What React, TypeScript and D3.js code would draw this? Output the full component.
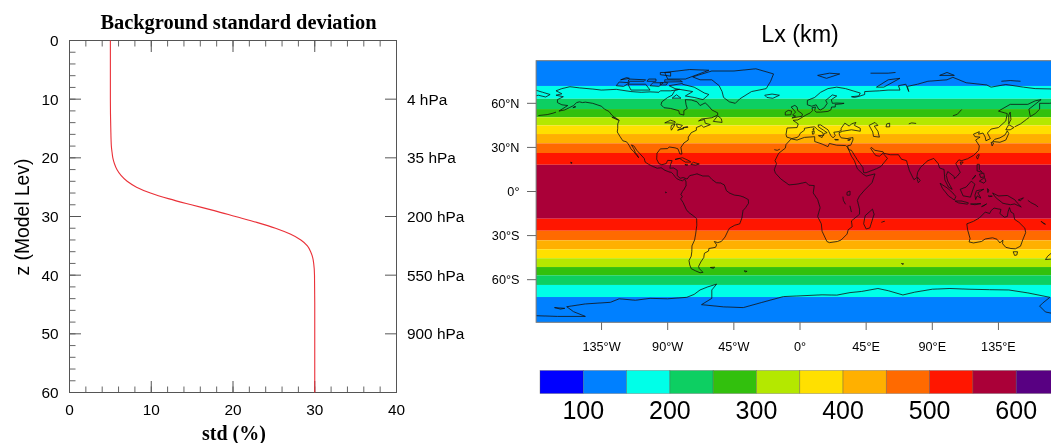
import React from 'react'
import * as d3 from 'd3'

type Pt = [number, number]

// left panel: profile
const modelLevels = [0, 10, 15, 18, 19, 20, 21, 22, 23, 24, 25, 26, 27, 28, 29, 30, 31, 32, 33, 34, 35, 36, 37, 38, 40, 45, 60]
const stdValues = [5, 5, 5.05, 5.12, 5.2, 5.3, 5.5, 5.8, 6.3, 7.05, 8.2, 9.9, 12.2, 14.9, 17.7, 20.3, 22.9, 25.2, 27, 28.3, 29.1, 29.5, 29.75, 29.87, 29.97, 30, 30]
const xMajor = [0, 10, 20, 30, 40]
const xMinor = d3.range(0, 41, 2)
const yMajor = [0, 10, 20, 30, 40, 50, 60]
const yMinor = d3.range(0, 61, 2)
const pressureLevels = [10, 20, 30, 40, 50]
const pressureLabels = ['4 hPa', '35 hPa', '200 hPa', '550 hPa', '900 hPa']

// right panel: Lx bands, north to south
const bandEdges = [89, 71.8, 63.1, 56.1, 50.5, 45, 39.1, 32.8, 26.2, 18.2, -18.5, -26.7, -33.2, -39.3, -45.4, -51.4, -57, -63.6, -71.8, -89]
const bandColorIndex = [1, 2, 3, 4, 5, 6, 7, 8, 9, 10, 9, 8, 7, 6, 5, 4, 3, 2, 1]
const palette = ['#0000ff', '#0080ff', '#00ffe8', '#0ccf62', '#33c00c', '#b4e800', '#ffe000', '#ffb000', '#ff6a00', '#ff1400', '#aa0038', '#590082']
const levelEdges = d3.range(50, 651, 50)
const barLabels = [100, 200, 300, 400, 500, 600]
const lonTicks = [-135, -90, -45, 0, 45, 90, 135]
const lonLabels = ['135°W', '90°W', '45°W', '0°', '45°E', '90°E', '135°E']
const latTicks = [60, 30, 0, -30, -60]
const latLabels = ['60°N', '30°N', '0°', '30°S', '60°S']

// coastlines, lon/lat
const americas: Pt[] = [[-164,54.7],[-160,55.5],[-157,57],[-154,58.5],[-152,60.5],[-150,61],[-148,60.5],[-146,60.8],[-141,60],[-138,59],[-135,58],[-133,56],[-130,54.5],[-128,52],[-125,49.5],[-123,48.5],[-124,46],[-124,43],[-124.3,40.5],[-122.5,37.5],[-120.5,34.5],[-118,33.8],[-117,32.5],[-116,31],[-115,29],[-113,27],[-111,24.5],[-109.8,23],[-110.5,24.5],[-112,26.5],[-113,29],[-114.7,31.7],[-113,31],[-111,28],[-109,25.8],[-106,22.5],[-105.3,20],[-103,18.5],[-100,17],[-97,15.8],[-94.5,16.2],[-92,14.5],[-89,13.3],[-87.5,13],[-86,11.5],[-85,10],[-83.5,8.5],[-81.5,7.7],[-80,7.3],[-78.5,8.5],[-77.5,6.5],[-77.5,4],[-78.8,1.5],[-80,0],[-81,-2],[-80,-3.5],[-81.2,-5],[-79.5,-7.5],[-77.5,-12],[-76,-14],[-72,-17],[-70.3,-18.5],[-70.2,-23],[-71,-29],[-71.7,-33],[-73.5,-37],[-73.6,-41],[-74,-44],[-75.5,-47],[-75,-50],[-74,-52.5],[-71,-54],[-68,-55.3],[-66,-55],[-68.5,-52.5],[-69,-51],[-67.5,-48],[-65.5,-45],[-65,-42],[-62.2,-40.5],[-62,-38.8],[-57.5,-38],[-56.7,-36.3],[-58.3,-34],[-56,-34.8],[-53.5,-34],[-51,-31],[-48.6,-26],[-48,-25],[-44.5,-23],[-41,-22],[-39.5,-18],[-38.8,-13],[-37,-11],[-35,-8],[-35.2,-5.5],[-38.5,-3.7],[-41.5,-2.8],[-44.5,-2.5],[-48,-1],[-50,0.5],[-51.5,4.5],[-54,5.8],[-57,6],[-60,8.3],[-62,10.5],[-66,10.5],[-70,12],[-72,11.5],[-75,10.8],[-76.8,8.5],[-79.5,9.5],[-81.5,9],[-83.5,10.8],[-83.5,14.5],[-86,16],[-88.5,15.8],[-88,18.5],[-87,21],[-90,21.2],[-91,19],[-94,18.2],[-96,19],[-97.5,22],[-97.3,26],[-95,29],[-90,29.2],[-89,30.3],[-85,29.7],[-83,29],[-81.7,25.5],[-80.3,25.5],[-81,30],[-79,33],[-76,35],[-76,37],[-74,40],[-70.5,41.7],[-70.5,43.5],[-67,45],[-65.5,43.7],[-61,45.5],[-64.5,46.5],[-65,49],[-69,48],[-67,49.3],[-60,50.2],[-56,52],[-56,53.5],[-60,55.5],[-62,58],[-64.5,60.3],[-68,58.5],[-70,61],[-74,62.3],[-78,62.5],[-77.5,59],[-76.7,56.5],[-79,55],[-79,52],[-82,52.8],[-82.5,55],[-88,56.5],[-92.5,57],[-94.5,59],[-94,61],[-90,64],[-87,65.5],[-85,69],[-82,69.5],[-88,68.5],[-95,68.5],[-96,67.5],[-102,67.8],[-108,67.5],[-115,68],[-125,69.5],[-135,69],[-141,69.7],[-150,70.5],[-156.5,71.3],[-162,70],[-166,68.5],[-162,66.5],[-166,65.5],[-161,64.5],[-165,62.5],[-165,60.5],[-162,59],[-158,58.5],[-164,54.7]]
const greenland: Pt[] = [[-73,78],[-68,76],[-60,76],[-55,72],[-53,68],[-52,64],[-48,61],[-44,60],[-41,63],[-33,68],[-23,70],[-20,75],[-18,80],[-30,83.5],[-45,82],[-60,82],[-73,78]]
const baffin: Pt[] = [[-80,73],[-72,71],[-65,67],[-62,66],[-66,62.5],[-72,64],[-78,65],[-73,68],[-85,70],[-89,72],[-80,73.5],[-80,73]]
const victoriaIsland: Pt[] = [[-117,73],[-105,73],[-102,69],[-115,69],[-117,73]]
const banksIsland: Pt[] = [[-125,72],[-120,71.5],[-116,74],[-123,74.5],[-125,72]]
const ellesmere: Pt[] = [[-90,76.5],[-78,76.5],[-62,82.5],[-75,83],[-92,81],[-90,76.5]]
const axelHeiberg: Pt[] = [[-95,79.5],[-88,78.5],[-88,81],[-95,81],[-95,79.5]]
const devonIsland: Pt[] = [[-92,74.5],[-80,74.7],[-82,75.8],[-92,76],[-92,74.5]]
const melvilleIsland: Pt[] = [[-117,75],[-106,75],[-105,76],[-116,76.5],[-117,75]]
const bathurstIsland: Pt[] = [[-104,75],[-98,75],[-98,76.5],[-103,76.5],[-104,75]]
const princePatrick: Pt[] = [[-122,76],[-116,77],[-118,77.5],[-122,76]]
const princeOfWales: Pt[] = [[-102,72],[-96,71.5],[-93,74],[-100,74],[-102,72]]
const somerset: Pt[] = [[-95,72.5],[-91,72.5],[-90,74],[-95,74],[-95,72.5]]
const southampton: Pt[] = [[-87,63.5],[-81,63.5],[-84,65.8],[-87,63.5]]
const newfoundland: Pt[] = [[-59,47.7],[-53,47],[-53.5,49.5],[-56,51.5],[-59,47.7]]
const vancouverIsland: Pt[] = [[-128,50.5],[-123.5,48.5],[-125,50],[-128,50.5]]
const kodiak: Pt[] = [[-154.5,57],[-152.5,57.5],[-153,58],[-154.5,57]]
const aleutians: Pt[] = [[-178,51.7],[-172,52.3],[-168,53.3],[-166,54]]
const superior: Pt[] = [[-92,46.7],[-88,48.5],[-85,47.5],[-85,46.5],[-90,46.7],[-92,46.7]]
const michigan: Pt[] = [[-87.5,41.7],[-86.3,43.5],[-85,45.7],[-87.5,45],[-87.8,43],[-87.5,41.7]]
const huron: Pt[] = [[-84,46],[-80,45],[-81.7,43.2],[-83.5,43.8],[-84,46]]
const erie: Pt[] = [[-83.3,41.7],[-79,42.8],[-81,42.7],[-83.3,41.7]]
const ontario: Pt[] = [[-79.7,43.4],[-76.3,43.6],[-76.5,44.2],[-79.7,43.4]]
const cuba: Pt[] = [[-85,21.8],[-80,23],[-75,20.7],[-74.3,20],[-78,20],[-82,22.5],[-85,21.8]]
const hispaniola: Pt[] = [[-74.3,18.4],[-72.5,19.9],[-68.5,18.7],[-71,18],[-74.3,18.4]]
const jamaica: Pt[] = [[-78.3,18.3],[-76.3,18.1],[-77,17.8],[-78.3,18.3]]
const hawaii: Pt[] = [[-156,20],[-155,19.5],[-155.7,19],[-156,20]]
const galapagos: Pt[] = [[-91.5,-0.3],[-90.8,-0.7],[-91.3,-1],[-91.5,-0.3]]
const falklands: Pt[] = [[-61,-51.7],[-58,-51.5],[-59,-52.3],[-61,-51.7]]
const southGeorgia: Pt[] = [[-38,-54],[-36,-54.3],[-37,-54.7],[-38,-54]]
const africa: Pt[] = [[-6,35.8],[-2,35],[3,36.8],[10,37.3],[10,34],[15,32.3],[19,30.5],[20,32.7],[25,31.5],[31,31.3],[32.5,30],[35,24],[37,21],[39,15.5],[43,11.7],[45,10.5],[51,12],[49,6],[44,1],[40.5,-3],[39,-6],[40.5,-12],[40.5,-15.5],[35,-20],[35.5,-24],[32.8,-26],[32,-29],[28,-33],[25.5,-34],[20,-34.8],[18.3,-34],[15,-27],[14.5,-22],[12,-17],[13.7,-11],[12,-5.5],[9,-1],[9.7,4],[6,4.3],[4,6.3],[-2,5],[-7.5,4.5],[-13,8.5],[-16.7,12.5],[-17.5,14.7],[-16,19],[-17,21],[-14.5,26],[-10,29.5],[-9.5,32],[-6,35.8]]
const madagascar: Pt[] = [[49.3,-12],[50.4,-15.5],[47.5,-24.8],[45,-25.5],[43.3,-22],[44.3,-16.5],[49.3,-12]]
const lakeVictoria: Pt[] = [[32,-0.5],[34,0.3],[34,-2.5],[32,-2.5],[32,-0.5]]
const lakeTanganyika: Pt[] = [[29.2,-3.5],[29.5,-6],[31,-8.7]]
const lakeMalawi: Pt[] = [[34,-9.7],[34.5,-12],[35,-14]]
const eurasia: Pt[] = [[-9,37],[-9.5,38.8],[-8.8,43.2],[-2,43.5],[-1.2,46],[-4.7,48.4],[-1.5,48.7],[1.5,50.5],[4,52],[7,53.5],[8.5,55],[8.2,57],[10.5,57.5],[10,55],[11,54],[14,54],[19,54.5],[21,55.5],[21.5,57.5],[24,57.5],[24,59.3],[28,59.6],[30,60],[25,60.2],[22,60],[21.3,62.5],[25,65],[22,65.7],[17.5,62],[18.5,60],[16.5,57],[14,55.5],[12.7,56],[11,59],[8,58],[5,59],[5,62],[10,64],[14,67.5],[19,70],[25,71],[31,70],[41,67],[40,65],[35,64.5],[37,64],[40,64.7],[44,66],[44,68],[54,68.5],[60,69],[68,69],[67,72],[72,73],[74,68],[73,71.5],[80,73],[87,75],[100,76],[104,77.7],[113,74],[127,72.5],[130,71],[140,72.8],[152,71],[160,70],[170,69.8],[180,69]]
const eurasiaSouth: Pt[] = [[180,65],[177,64.7],[179,62.5],[170,60],[163,60],[163,56],[160,53],[156.7,51],[155.7,56],[164,62.5],[160,61.7],[155,59.3],[143,59.3],[135,54.7],[141,53],[140,48],[135,43.5],[130,42.5],[127.5,39.8],[129.5,36],[126.5,34.5],[126,37],[124.5,39.8],[121.5,39],[122,40.7],[118,39],[119,37.3],[122.5,37],[119.5,35],[122,31],[121.5,28],[118,24.5],[114,22.3],[110,21],[108,21.5],[106,19],[109,13],[107,10.5],[105,8.7],[105,10],[102,12.5],[100.5,13.5],[99.5,11],[100.5,7],[103.5,1.5],[101,3],[98.5,8],[98,15],[95,16],[94,19],[91,22.5],[87,21],[82,16.5],[80,13],[79.5,9.5],[77.5,8],[74.5,14],[73,19],[72.5,21],[69,22],[67,25],[61.5,25],[57,26],[56.5,27],[51,28],[48.5,30],[48,29.5],[50,26.5],[51.5,24.5],[54,24],[56.5,26],[59.5,22.5],[55,17],[52,15.5],[45,12.8],[43.3,12.8],[42.7,16.5],[39,21.5],[35,28],[33,28.5],[32.5,30],[32.5,31.2],[34.5,31.5],[36,35],[36,36.7],[32,36],[28,36.5],[27,38],[26.5,40],[29,41],[35,42],[41,41],[41,43],[37,45],[38,47],[35,46],[33.5,44.5],[30.5,46.5],[28,43],[28,41.5],[26,40.7],[23,40.3],[24,38],[22.5,36.5],[21,38],[19.5,41],[19,42],[14,45.3],[12.4,45.3],[12.5,44],[16,41.7],[18.5,40],[16.5,39.5],[16,38],[15.5,40],[12,42],[10,44],[7,43.7],[3,43],[3,41.7],[0,39.5],[-0.5,38],[-2,36.8],[-5.5,36],[-9,37]]
const chukotka: Pt[] = [[-180,69],[-175,67.5],[-170,66],[-173,64.3],[-178,65.5],[-180,65]]
const caspian: Pt[] = [[47,45],[51,47],[53,45],[50.5,44.5],[53,41],[54,37],[50,37.5],[49.5,40.5],[47,45]]
const aral: Pt[] = [[59,46],[61,46.5],[61,44],[58.5,44],[59,46]]
const balkhash: Pt[] = [[74,46],[76,46.7],[79,46.3]]
const baikal: Pt[] = [[104,51.5],[107,52.5],[110,55.8]]
const novayaZemlya: Pt[] = [[52,71],[57,71],[68,77],[60,76],[52,71]]
const svalbard: Pt[] = [[12,79],[20,80.5],[27,80],[18,77],[12,79]]
const franzJosef: Pt[] = [[48,80.5],[60,80.5],[65,81]]
const severnayaZemlya: Pt[] = [[95,79],[105,79],[100,81],[95,79]]
const newSiberia: Pt[] = [[137,75],[143,75.5],[150,75]]
const sakhalin: Pt[] = [[142,46],[143.5,49],[143,54],[142,52],[142,46]]
const kuriles: Pt[] = [[146,44],[150,46],[154,49],[156,50.5]]
const honshu: Pt[] = [[131,34],[136,33.5],[140,35],[142,39.5],[141,41.3],[139.5,38.5],[136,36.5],[132.5,35.5],[131,34]]
const hokkaido: Pt[] = [[140,42],[143,42],[145.5,43.5],[142,45.5],[140,42]]
const kyushu: Pt[] = [[130,33.5],[131.7,33],[130.7,31],[130,33.5]]
const taiwan: Pt[] = [[121,25],[122,25],[120.8,22],[120,23.5],[121,25]]
const hainan: Pt[] = [[109,20],[111,20],[109.5,18.2],[109,20]]
const sriLanka: Pt[] = [[80,9.7],[81.8,7.5],[80.5,6],[79.8,8],[80,9.7]]
const luzon: Pt[] = [[120.5,18.5],[122,18.5],[122,15],[124,13],[120.5,14],[120.5,18.5]]
const palawan: Pt[] = [[117.2,8.4],[119.5,11.2],[119,10],[117.2,8.4]]
const visayas: Pt[] = [[122,11.8],[125,12.5],[125.5,10],[123,9.5],[122,11.8]]
const mindanao: Pt[] = [[122,7],[125.5,9.5],[126.5,7],[125,5.7],[122,7]]
const borneo: Pt[] = [[109,1.5],[113,3],[116.5,7],[119,5],[117.5,1],[116,-3.8],[111,-3],[109,1.5]]
const sumatra: Pt[] = [[95.3,5.6],[100,2.5],[104,-1],[106,-3.5],[105,-5.8],[101,-3],[97,2],[95.3,5.6]]
const java: Pt[] = [[105.5,-6.5],[110,-6.5],[114.5,-7.7],[114,-8.6],[108,-7.8],[105.5,-6.5]]
const flores: Pt[] = [[116,-8.5],[120,-8.3],[123,-8.3],[119,-9],[116,-8.5]]
const sulawesi: Pt[] = [[120,0.5],[125,1.5],[121,-0.8],[123,-4.5],[120.5,-3],[119.5,-5.5],[119,-2.5],[120,0.5]]
const halmahera: Pt[] = [[127.5,2],[128.5,1],[127.8,-0.7],[127.5,2]]
const seram: Pt[] = [[128,-3],[130.8,-3.2],[129,-3.5],[128,-3]]
const newGuinea: Pt[] = [[131,-1],[135,-3],[141,-2.7],[146,-5.5],[148,-8],[150.5,-10.5],[146,-8.5],[143,-9],[138,-8],[133,-4],[131,-1]]
const newBritain: Pt[] = [[148.5,-5.7],[152,-4.3],[150,-6.3],[148.5,-5.7]]
const solomons: Pt[] = [[155,-6],[157,-7.5],[160,-9],[162,-10.5]]
const newCaledonia: Pt[] = [[164,-20.3],[167,-22.3],[165.5,-21.8],[164,-20.3]]
const timor: Pt[] = [[123.5,-10.3],[127,-8.4],[125,-9.7],[123.5,-10.3]]
const australia: Pt[] = [[113.5,-22],[114,-26],[115.7,-32],[115,-34.3],[118,-35],[123.5,-34],[126,-32.3],[131,-31.5],[134,-32.5],[136,-35],[138,-33],[137.8,-35.5],[140,-38],[143.5,-38.8],[146.5,-39],[150,-37.2],[151.5,-33],[153.5,-28],[153,-25],[149,-21],[146,-19],[145.3,-15],[143.5,-14],[142.5,-11],[141.5,-14],[141,-17],[139,-17.5],[136,-15],[136.7,-12.2],[132,-11.3],[130,-13],[129,-15],[126,-14],[122,-18],[118,-20.3],[113.5,-22]]
const tasmania: Pt[] = [[145,-41],[148,-41],[147.5,-43.2],[146,-43.5],[145,-41]]
const nzNorth: Pt[] = [[173,-34.5],[175.5,-36.7],[178.5,-37.7],[176.5,-40.5],[175,-41.5],[174.8,-39.5],[173,-34.5]]
const nzSouth: Pt[] = [[172.7,-40.5],[174.2,-41.7],[172.8,-43.8],[170.5,-46],[167,-46.3],[168.5,-44],[172.7,-40.5]]
const iceland: Pt[] = [[-24,65.5],[-19,66.3],[-14,65.5],[-18.5,63.4],[-22.5,64],[-24,65.5]]
const greatBritain: Pt[] = [[-5.5,50],[1.3,51.2],[1.7,52.7],[-1.5,55],[-2,57.5],[-3.5,58.6],[-6,57.5],[-3,54],[-5,52],[-3,51.3],[-5.5,50]]
const ireland: Pt[] = [[-10,52],[-6.2,52.2],[-5.7,54.7],[-8,55.2],[-10,54],[-10,52]]
const sardinia: Pt[] = [[8.3,41],[9.7,41],[9.5,39.2],[8.5,39],[8.3,41]]
const corsica: Pt[] = [[8.7,42.5],[9.5,43],[9.3,41.5],[8.7,42.5]]
const sicily: Pt[] = [[12.5,38],[15.5,38.2],[15,36.7],[12.5,38]]
const crete: Pt[] = [[23.6,35.5],[26.2,35.2],[24,35],[23.6,35.5]]
const cyprus: Pt[] = [[32.4,35],[34.5,35.6],[33.5,34.7],[32.4,35]]
const canaries: Pt[] = [[-17.5,28.5],[-15.5,28],[-13.7,28.8]]
const kerguelen: Pt[] = [[68.8,-49],[70.5,-49.2],[69.5,-49.7]]
const reunion: Pt[] = [[55.3,-21],[57.5,-20.2],[57,-20.7]]
const antarctica: Pt[] = [[-180,-84.5],[-165,-85],[-146,-85],[-154,-81.8],[-158.7,-78.4],[-146,-76.5],[-129,-75.4],[-123,-73],[-112,-74],[-102,-72.7],[-90,-73],[-77,-72],[-72,-70],[-68,-67],[-63,-65],[-56.7,-63],[-60,-67],[-60,-72.7],[-67,-77],[-52,-78.5],[-38.6,-79],[-26,-75.5],[-11.3,-71.5],[0,-71],[15,-70.3],[25,-70.5],[34,-68.8],[42,-68],[53,-66],[60,-67.5],[70,-70.4],[78,-68.5],[90,-66.5],[102,-66],[115,-66.5],[129,-66.8],[142,-67],[155,-69],[170,-72],[165,-76],[163,-78],[167,-82],[180,-84.5]]
const rooseveltIsland: Pt[] = [[-167,-79],[-160,-79.5],[-163,-80],[-167,-79]]

const coastlines: Pt[][] = [
  americas, greenland, baffin, victoriaIsland, banksIsland, ellesmere, axelHeiberg, devonIsland, melvilleIsland,
  bathurstIsland, princePatrick, princeOfWales, somerset, southampton, newfoundland, vancouverIsland, kodiak, aleutians,
  superior, michigan, huron, erie, ontario, cuba, hispaniola, jamaica, hawaii, galapagos, falklands, southGeorgia,
  africa, madagascar, lakeVictoria, lakeTanganyika, lakeMalawi, eurasia, eurasiaSouth, chukotka, caspian, aral,
  balkhash, baikal, novayaZemlya, svalbard, franzJosef, severnayaZemlya, newSiberia, sakhalin, kuriles, honshu,
  hokkaido, kyushu, taiwan, hainan, sriLanka, luzon, palawan, visayas, mindanao, borneo, sumatra, java, flores,
  sulawesi, halmahera, seram, newGuinea, newBritain, solomons, newCaledonia, timor, australia, tasmania, nzNorth,
  nzSouth, iceland, greatBritain, ireland, sardinia, corsica, sicily, crete, cyprus, canaries, kerguelen, reunion,
  antarctica, rooseveltIsland,
]

const sans = '"Liberation Sans", Arial, sans-serif'
const serif = '"Liberation Serif", "Times New Roman", serif'
const axisColor = '#555'

function App() {
  const x = d3.scaleLinear().domain([0, 40]).range([69.5, 396.5])
  const y = d3.scaleLinear().domain([0, 60]).range([40.5, 392.5])
  const profile = d3.line<number>()
    .x((d) => x(d))
    .y((_, i) => y(modelLevels[i]))
    .curve(d3.curveMonotoneY)

  const lon = d3.scaleLinear().domain([-180, 180]).range([535.4, 1064.6])
  const lat = d3.scaleLinear().domain([89, -89]).range([60.7, 322.3])
  const coast = d3.line<Pt>().x((d) => lon(d[0])).y((d) => lat(d[1]))
  const bar = d3.scaleLinear().domain([50, 650]).range([540, 1059.5])
  const mapLeft = lon(-179.5)
  const mapWidth = lon(180) - mapLeft
  const mapHeight = lat(-89) - lat(89)

  return (
    <svg width={1051} height={443} style={{ position: 'absolute', left: 0, top: 0, display: 'block', background: '#fff' }}>
      <defs>
        <clipPath id="map-clip">
          <rect x={mapLeft} y={lat(89)} width={mapWidth} height={mapHeight} />
        </clipPath>
        <filter id="soft" x="0" y="0" width="100%" height="100%">
          <feGaussianBlur stdDeviation="0.35" />
        </filter>
      </defs>
      <g filter="url(#soft)">
        {/* left panel */}
        <text x={238.5} y={29} textAnchor="middle" fontFamily={serif} fontWeight="bold" fontSize={20.4}>Background standard deviation</text>
        <rect x={x(0)} y={y(0)} width={x(40) - x(0)} height={y(60) - y(0)} fill="none" stroke={axisColor} strokeWidth={1} />
        {xMinor.map((v) => (
          <g key={v} stroke={axisColor} strokeWidth={0.9}>
            <line x1={x(v)} x2={x(v)} y1={y(0)} y2={y(0) + 6} />
            <line x1={x(v)} x2={x(v)} y1={y(60)} y2={y(60) - 6} />
          </g>
        ))}
        {xMajor.map((v) => (
          <g key={v}>
            <line x1={x(v)} x2={x(v)} y1={y(0)} y2={y(0) + 11.5} stroke={axisColor} />
            <line x1={x(v)} x2={x(v)} y1={y(60)} y2={y(60) - 11.5} stroke={axisColor} />
            <text x={x(v)} y={415} textAnchor="middle" fontFamily={sans} fontSize={15.4}>{v}</text>
          </g>
        ))}
        {yMinor.map((v) => (
          <line key={v} x1={x(0)} x2={x(0) + 6} y1={y(v)} y2={y(v)} stroke={axisColor} strokeWidth={0.9} />
        ))}
        {yMajor.map((v) => (
          <g key={v}>
            <line x1={x(0)} x2={x(0) + 11.5} y1={y(v)} y2={y(v)} stroke={axisColor} />
            <text x={58.5} y={y(v) + 5.5} textAnchor="end" fontFamily={sans} fontSize={15.4}>{v}</text>
          </g>
        ))}
        {pressureLevels.map((v, i) => (
          <g key={v}>
            <line x1={x(40) - 11.5} x2={x(40)} y1={y(v)} y2={y(v)} stroke={axisColor} />
            <text x={407} y={y(v) + 5.5} fontFamily={sans} fontSize={15.4}>{pressureLabels[i]}</text>
          </g>
        ))}
        <path d={profile(stdValues) ?? ''} fill="none" stroke="#ea3038" strokeWidth={1.1} />
        <text transform="translate(28.5,217) rotate(-90)" textAnchor="middle" fontFamily={sans} fontSize={19.3}>z (Model Lev)</text>
        <text x={234} y={440} textAnchor="middle" fontFamily={serif} fontWeight="bold" fontSize={20}>std (%)</text>

        {/* right panel */}
        <text x={800} y={41.5} textAnchor="middle" fontFamily={sans} fontSize={23.3}>Lx (km)</text>
        {bandColorIndex.map((c, i) => (
          <rect key={i} x={mapLeft} y={lat(bandEdges[i])} width={mapWidth}
            height={lat(bandEdges[i + 1]) - lat(bandEdges[i])} fill={palette[c]} />
        ))}
        <g clipPath="url(#map-clip)" fill="none" stroke="#111" strokeWidth={0.8} strokeLinejoin="round">
          {coastlines.map((c, i) => <path key={i} d={coast(c) ?? ''} />)}
        </g>
        <rect x={mapLeft} y={lat(89)} width={mapWidth} height={mapHeight} fill="none" stroke="#777" strokeWidth={1} />
        {latTicks.map((v, i) => (
          <g key={v}>
            <line x1={527} x2={mapLeft} y1={lat(v)} y2={lat(v)} stroke="#666" />
            <text x={519.5} y={lat(v) + 4.5} textAnchor="end" fontFamily={sans} fontSize={12.7}>{latLabels[i]}</text>
          </g>
        ))}
        {lonTicks.map((v, i) => (
          <g key={v}>
            <line x1={lon(v)} x2={lon(v)} y1={lat(-89)} y2={330} stroke="#666" />
            <text x={lon(v)} y={350.5} textAnchor="middle" fontFamily={sans} fontSize={12.7}>{lonLabels[i]}</text>
          </g>
        ))}
        {palette.map((c, i) => (
          <rect key={c} x={bar(levelEdges[i])} y={370.5} width={bar(levelEdges[i + 1]) - bar(levelEdges[i])} height={23}
            fill={c} stroke="#555" strokeOpacity={0.5} strokeWidth={0.7} />
        ))}
        {barLabels.map((v) => (
          <text key={v} x={bar(v)} y={419} textAnchor="middle" fontFamily={sans} fontSize={25}>{v}</text>
        ))}
      </g>
    </svg>
  )
}

export default App
